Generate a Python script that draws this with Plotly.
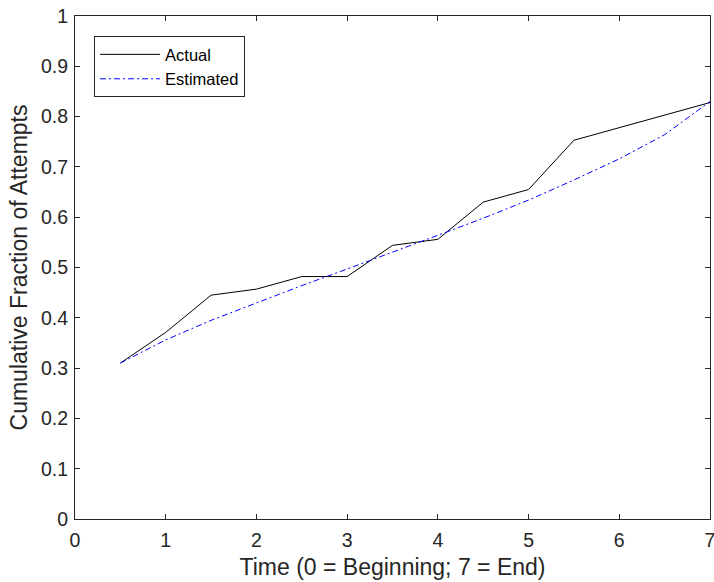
import plotly.graph_objects as go

time = [0.5, 1.0, 1.5, 2.0, 2.5, 3.0, 3.5, 4.0, 4.5, 5.0, 5.5, 6.0, 6.5, 7.0]
actual = [0.310, 0.371, 0.445, 0.457, 0.482, 0.482, 0.544, 0.556, 0.630, 0.655, 0.753, 0.778, 0.803, 0.828]
estimated = [0.310, 0.356, 0.395, 0.430, 0.464, 0.497, 0.530, 0.564, 0.598, 0.634, 0.674, 0.716, 0.764, 0.830]

x_ticks = [0, 1, 2, 3, 4, 5, 6, 7]
y_ticks = [0, 0.1, 0.2, 0.3, 0.4, 0.5, 0.6, 0.7, 0.8, 0.9, 1]
y_tick_text = ["0", "0.1", "0.2", "0.3", "0.4", "0.5", "0.6", "0.7", "0.8", "0.9", "1"]

FONT = "Liberation Sans, Arial"
GRAY = "#262626"

fig = go.Figure()
fig.add_trace(go.Scatter(x=time, y=actual, mode="lines", name="Actual",
                         line=dict(color="black", width=1)))
fig.add_trace(go.Scatter(x=time, y=estimated, mode="lines", name="Estimated",
                         line=dict(color="#0000ff", width=1, dash="6px,3px,2px,3px")))

axis_common = dict(
    showgrid=False, zeroline=False, showline=True, linecolor=GRAY, linewidth=1,
    mirror="ticks", ticks="inside", ticklen=5, tickcolor=GRAY, tickwidth=1,
    tickfont=dict(family=FONT, size=19.5, color=GRAY),
    ticklabeloverflow="allow", automargin=False,
)

fig.update_layout(
    width=714, height=582,
    margin=dict(l=75, r=4, t=16, b=63),
    paper_bgcolor="white", plot_bgcolor="white",
    showlegend=True,
    legend=dict(x=0.03, y=0.96, xanchor="left", yanchor="top",
                bgcolor="white", bordercolor=GRAY, borderwidth=1,
                font=dict(family=FONT, size=16.5, color="black"),
                itemwidth=60, tracegroupgap=0),
    xaxis=dict(range=[0, 7], tickvals=x_ticks, ticktext=[str(v) for v in x_ticks],
               ticklabelstandoff=4,
               title=dict(text="Time (0 = Beginning; 7 = End)", standoff=8,
                          font=dict(family=FONT, size=23, color=GRAY)),
               **axis_common),
    yaxis=dict(range=[0, 1], tickvals=y_ticks, ticktext=y_tick_text,
               ticklabelstandoff=2,
               title=dict(text="Cumulative Fraction of Attempts", standoff=6,
                          font=dict(family=FONT, size=23, color=GRAY)),
               **axis_common),
)

fig.write_html("out.html")
